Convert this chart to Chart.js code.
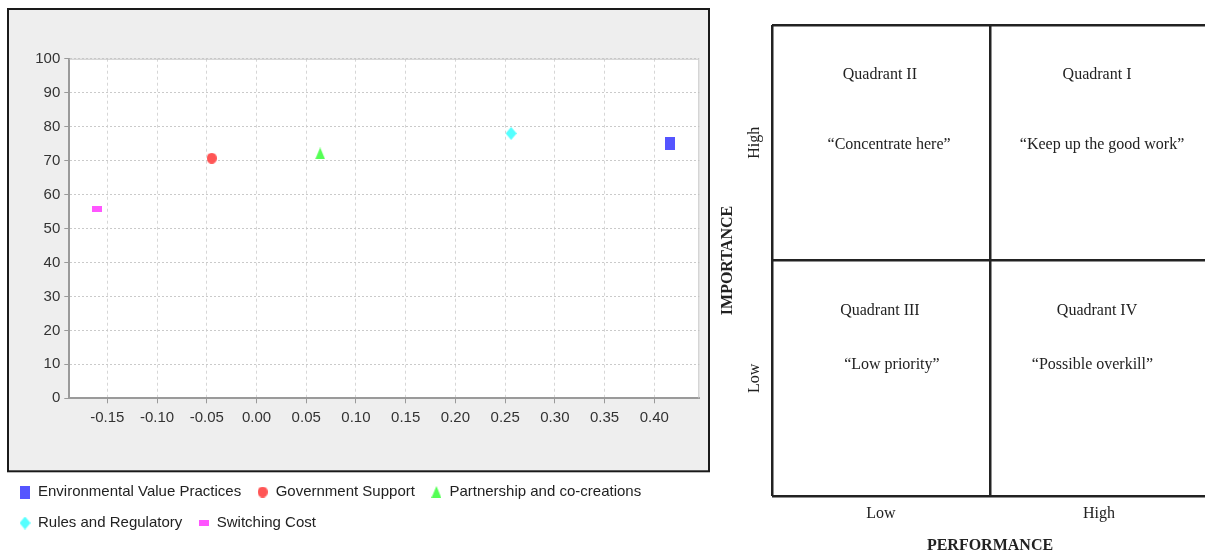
<!DOCTYPE html>
<html>
<head>
<meta charset="utf-8">
<script src="https://cdn.jsdelivr.net/npm/chart.js@4.4.1/dist/chart.umd.min.js"></script>
<style>
  html, body { margin: 0; padding: 0; background: #fff; overflow: hidden; width: 1205px; height: 553px; }
  #leftBox { position: absolute; left: 0; top: 0; width: 712px; height: 553px; }
  #rightBox { position: absolute; left: 712px; top: 0; width: 500px; height: 555px; }
</style>
</head>
<body>
<div id="leftBox"><canvas id="ipaChart"></canvas></div>
<div id="rightBox"><canvas id="quadChart"></canvas></div>
<script>
// Left plot: performance gap (x) vs importance (y)
const seriesNames = ["Environmental Value Practices", "Government Support", "Partnership and co-creations", "Rules and Regulatory", "Switching Cost"];
const performance = [0.416, -0.045, 0.064, 0.256, -0.160];
const importance = [74.9, 70.7, 72.1, 78.0, 55.7];
const seriesColors = ["#5555ff", "#ff5555", "#55ff55", "#55ffff", "#ff55ff"];
const markerShapes = ["rect", "ellipse", "triangle", "diamond", "flatRect"];

// Right diagram: importance-performance quadrants
const perfLevels = ["Low", "High"];
const impLevels = ["Low", "High"];
const quadrantTitles = ["Quadrant II", "Quadrant I", "Quadrant III", "Quadrant IV"];
const quadrantNotes = ["\u201cConcentrate here\u201d", "\u201cKeep up the good work\u201d", "\u201cLow priority\u201d", "\u201cPossible overkill\u201d"];
const titleAt = [[0.495, 1.787], [1.491, 1.787], [0.495, 0.785], [1.491, 0.785]];
const noteAt = [[0.537, 1.49], [1.514, 1.49], [0.55, 0.556], [1.47, 0.556]];

const SANS = '"Liberation Sans", Arial, sans-serif';
const SERIF = '"Liberation Serif", "Times New Roman", serif';

// small canvases used as point styles (JFreeChart-like shapes)
function marker(shape, color) {
  const c = document.createElement("canvas");
  const size = { rect: [10, 13], ellipse: [10, 11], triangle: [10, 12], diamond: [11, 13], flatRect: [10, 6] }[shape];
  c.width = size[0]; c.height = size[1];
  const g = c.getContext("2d");
  const w = size[0], h = size[1];
  g.fillStyle = color;
  g.beginPath();
  if (shape === "ellipse") g.ellipse(w / 2, h / 2, w / 2, h / 2, 0, 0, Math.PI * 2);
  else if (shape === "triangle") { g.moveTo(w / 2, 0); g.lineTo(w, h); g.lineTo(0, h); }
  else if (shape === "diamond") { g.moveTo(w / 2, 0); g.lineTo(w, h / 2); g.lineTo(w / 2, h); g.lineTo(0, h / 2); }
  else g.rect(0, 0, w, h);
  g.closePath();
  g.fill();
  return c;
}

const panelFrame = {
  id: "panelFrame",
  beforeDraw(chart) {
    const { ctx, chartArea: a } = chart;
    const boxBottom = a.bottom + 73;
    ctx.save();
    ctx.fillStyle = "#eeeeee";
    ctx.fillRect(8, 9, chart.width - 11, boxBottom - 9);
    ctx.strokeStyle = "#1a1a1a";
    ctx.lineWidth = 2;
    ctx.strokeRect(8, 9, chart.width - 11, boxBottom - 9);
    ctx.fillStyle = "#ffffff";
    ctx.fillRect(a.left, a.top, a.width, a.height);
    ctx.restore();
  },
  beforeDatasetsDraw(chart) {
    const { ctx, chartArea: a } = chart;
    ctx.save();
    ctx.strokeStyle = "#c4c4c4";
    ctx.lineWidth = 1;
    ctx.beginPath();
    ctx.moveTo(a.left, a.top + 0.5);
    ctx.lineTo(a.right - 0.5, a.top + 0.5);
    ctx.lineTo(a.right - 0.5, a.bottom);
    ctx.stroke();
    ctx.restore();
  }
};

new Chart(document.getElementById("ipaChart"), {
  type: "scatter",
  data: {
    datasets: seriesNames.map((name, i) => ({
      label: name,
      data: [{ x: performance[i], y: importance[i] }],
      pointStyle: marker(markerShapes[i], seriesColors[i]),
      backgroundColor: seriesColors[i],
      borderColor: seriesColors[i]
    }))
  },
  options: {
    responsive: true,
    maintainAspectRatio: false,
    animation: false,
    layout: { padding: { left: 3.5, right: 12.7, top: 58.7, bottom: 12.5 } },
    plugins: {
      tooltip: { enabled: false },
      legend: {
        position: "bottom",
        align: "start",
        labels: { usePointStyle: true, boxWidth: 11, padding: 16, color: "#222", font: { family: SANS, size: 15 } }
      }
    },
    scales: {
      x: {
        type: "linear",
        min: -0.1882,
        max: 0.4452,
        afterFit: s => { s.height = 70.2; },
        ticks: { stepSize: 0.05, includeBounds: false, maxRotation: 0, padding: 5.5, color: "#333", font: { family: SANS, size: 15 }, callback: v => v.toFixed(2) },
        grid: { color: "#d6d6d6", tickColor: "#999", tickLength: 5, tickWidth: 1 },
        border: { display: true, color: "#9a9a9a", width: 2, dash: [3, 3] }
      },
      y: {
        min: 0,
        max: 100,
        afterFit: s => { s.width = 65.8; },
        ticks: { stepSize: 10, padding: 4, color: "#333", font: { family: SANS, size: 15 } },
        grid: { color: "#cacaca", tickColor: "#999", tickLength: 5, tickWidth: 1 },
        border: { display: true, color: "#9a9a9a", width: 2, dash: [2, 2] }
      }
    }
  },
  plugins: [panelFrame]
});

// text inside the quadrants and the rotated Low/High on the importance side
const quadrantText = {
  id: "quadrantText",
  afterDraw(chart) {
    const { ctx, chartArea: a, scales: { x, y } } = chart;
    ctx.save();
    ctx.fillStyle = "#222";
    ctx.font = "16px " + SERIF;
    ctx.textAlign = "center";
    ctx.textBaseline = "middle";
    quadrantTitles.forEach((t, i) => ctx.fillText(t, x.getPixelForValue(titleAt[i][0]), y.getPixelForValue(titleAt[i][1])));
    quadrantNotes.forEach((t, i) => ctx.fillText(t, x.getPixelForValue(noteAt[i][0]), y.getPixelForValue(noteAt[i][1])));
    impLevels.forEach((t, i) => {
      ctx.save();
      ctx.translate(a.left - 17, y.getPixelForValue(i + 0.5));
      ctx.rotate(-Math.PI / 2);
      ctx.fillText(t, 0, 0);
      ctx.restore();
    });
    ctx.restore();
  }
};

const levelTicks = s => { s.ticks = perfLevels.map((_, i) => ({ value: i + 0.5 })); };

new Chart(document.getElementById("quadChart"), {
  type: "scatter",
  data: { datasets: [] },
  options: {
    responsive: true,
    maintainAspectRatio: false,
    animation: false,
    layout: { padding: { left: 0, right: 4, top: 25, bottom: 0 } },
    plugins: { legend: { display: false }, tooltip: { enabled: false } },
    scales: {
      x: {
        type: "linear",
        min: 0,
        max: 2,
        afterBuildTicks: levelTicks,
        afterFit: s => { s.height = 59; },
        ticks: { padding: 8, color: "#222", font: { family: SERIF, size: 16 }, callback: (v, i) => perfLevels[i] },
        grid: { offset: true, color: "#222", lineWidth: 2.5, drawTicks: false },
        border: { display: false },
        title: { display: true, text: "PERFORMANCE", color: "#222", font: { family: SERIF, size: 16, weight: "bold" }, padding: { top: 0, bottom: 0 } }
      },
      y: {
        type: "linear",
        min: 0,
        max: 2,
        afterBuildTicks: levelTicks,
        afterFit: s => { s.width = 60; },
        ticks: { display: false },
        grid: { offset: true, color: "#222", lineWidth: 2.5, drawTicks: false },
        border: { display: false },
        title: { display: true, text: "IMPORTANCE", color: "#222", font: { family: SERIF, size: 16, weight: "bold" }, padding: { top: 6.4, bottom: 0 } }
      }
    }
  },
  plugins: [quadrantText]
});
</script>
</body>
</html>
